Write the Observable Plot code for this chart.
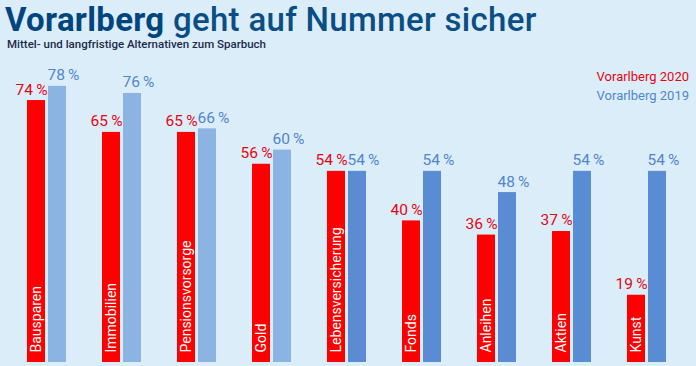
<!DOCTYPE html>
<html>
<head>
<meta charset="utf-8">
<script src="https://cdn.jsdelivr.net/npm/d3@7"></script>
<script src="https://cdn.jsdelivr.net/npm/@observablehq/plot@0.6"></script>
<style>
  html, body { margin: 0; padding: 0; background: #dcedfa; }
  #wrap { position: relative; width: 696px; height: 366px; overflow: hidden; background: #dcedfa; font-family: Roboto, "Noto Sans", sans-serif; }
  #title { position: absolute; left: 5px; top: 0px; font-size: 33px; line-height: normal; color: #0b4d85; font-weight: 500; letter-spacing: 0.3px; white-space: nowrap; }
  #title b { font-weight: 700; color: #00457d; }
  #subtitle { position: absolute; left: 7px; top: 37px; font-size: 11.5px; line-height: normal; color: #1b2b4b; font-weight: 500; white-space: nowrap; }
  #legend { position: absolute; right: 7px; top: 67px; font-size: 13px; line-height: 19px; text-align: left; }
  #chart { position: absolute; left: 0; top: 56px; }
</style>
</head>
<body>
<div id="wrap">
  <div id="title"><b>Vorarlberg</b> geht auf Nummer sicher</div>
  <div id="subtitle">Mittel- und langfristige Alternativen zum Sparbuch</div>
  <div id="legend"></div>
  <div id="chart"></div>
</div>
<script>
const categories = ["Bausparen", "Immobilien", "Pensionsvorsorge", "Gold", "Lebensversicherung", "Fonds", "Anleihen", "Aktien", "Kunst"];
const values2020 = [74, 65, 65, 56, 54, 40, 36, 37, 19];
const values2019 = [78, 76, 66, 60, 54, 54, 48, 54, 54];
const seriesNames = ["Vorarlberg 2020", "Vorarlberg 2019"];

const RED = "#ff0000";
const RED_TEXT = "#e30613";
const BLUE_LIGHT = "#8cb4e2";
const BLUE_DARK = "#5a8cd4";
const BLUE_TEXT = "#4f86cc";
const lightCount = 4;

const data = [];
categories.forEach((c, i) => {
  data.push({cat: c, year: "2020", value: values2020[i], idx: i});
  data.push({cat: c, year: "2019", value: values2019[i], idx: i});
});

const fillOf = d => d.year === "2020" ? RED : (d.idx < lightCount ? BLUE_LIGHT : BLUE_DARK);

const H = 310;
const base = 306;
const pxPerPct = 3.54;

const chart = Plot.plot({
  width: 696,
  height: H,
  marginLeft: 27,
  marginRight: 30,
  marginTop: 0,
  marginBottom: 4,
  style: {background: "transparent", fontFamily: "Roboto, 'Noto Sans', sans-serif"},
  fx: {domain: categories, paddingInner: 0.48, paddingOuter: 0, axis: null, label: null},
  x: {domain: ["2020", "2019"], paddingInner: 0.143, paddingOuter: 0, axis: null},
  y: {domain: [0, 100], range: [base, base - 100 * pxPerPct], axis: null},
  marks: [
    Plot.barY(data, {fx: "cat", x: "year", y: "value", fill: fillOf}),
    Plot.text(data.filter(d => d.year === "2020"), {
      fx: "cat", x: "year", y: "value", text: d => d.value + "\u2009%",
      textAnchor: "end", dx: 11, dy: -11, fill: RED_TEXT, fontSize: 15.5, letterSpacing: "-0.5px"
    }),
    Plot.text(data.filter(d => d.year === "2019"), {
      fx: "cat", x: "year", y: "value", text: d => d.value + "\u2009%",
      textAnchor: "start", dx: -10, dy: -11, fill: BLUE_TEXT, fontSize: 15.5, letterSpacing: "-0.5px"
    }),
    Plot.text(data.filter(d => d.year === "2020"), {
      fx: "cat", x: "year", y: 0, text: "cat", rotate: -90,
      textAnchor: "start", dy: -10, fill: "white", fontSize: 14
    })
  ]
});
document.getElementById("chart").appendChild(chart);

const legend = document.getElementById("legend");
[[seriesNames[0], RED_TEXT], [seriesNames[1], BLUE_TEXT]].forEach(([t, c]) => {
  const el = document.createElement("div");
  el.textContent = t;
  el.style.color = c;
  legend.appendChild(el);
});
</script>
</body>
</html>
